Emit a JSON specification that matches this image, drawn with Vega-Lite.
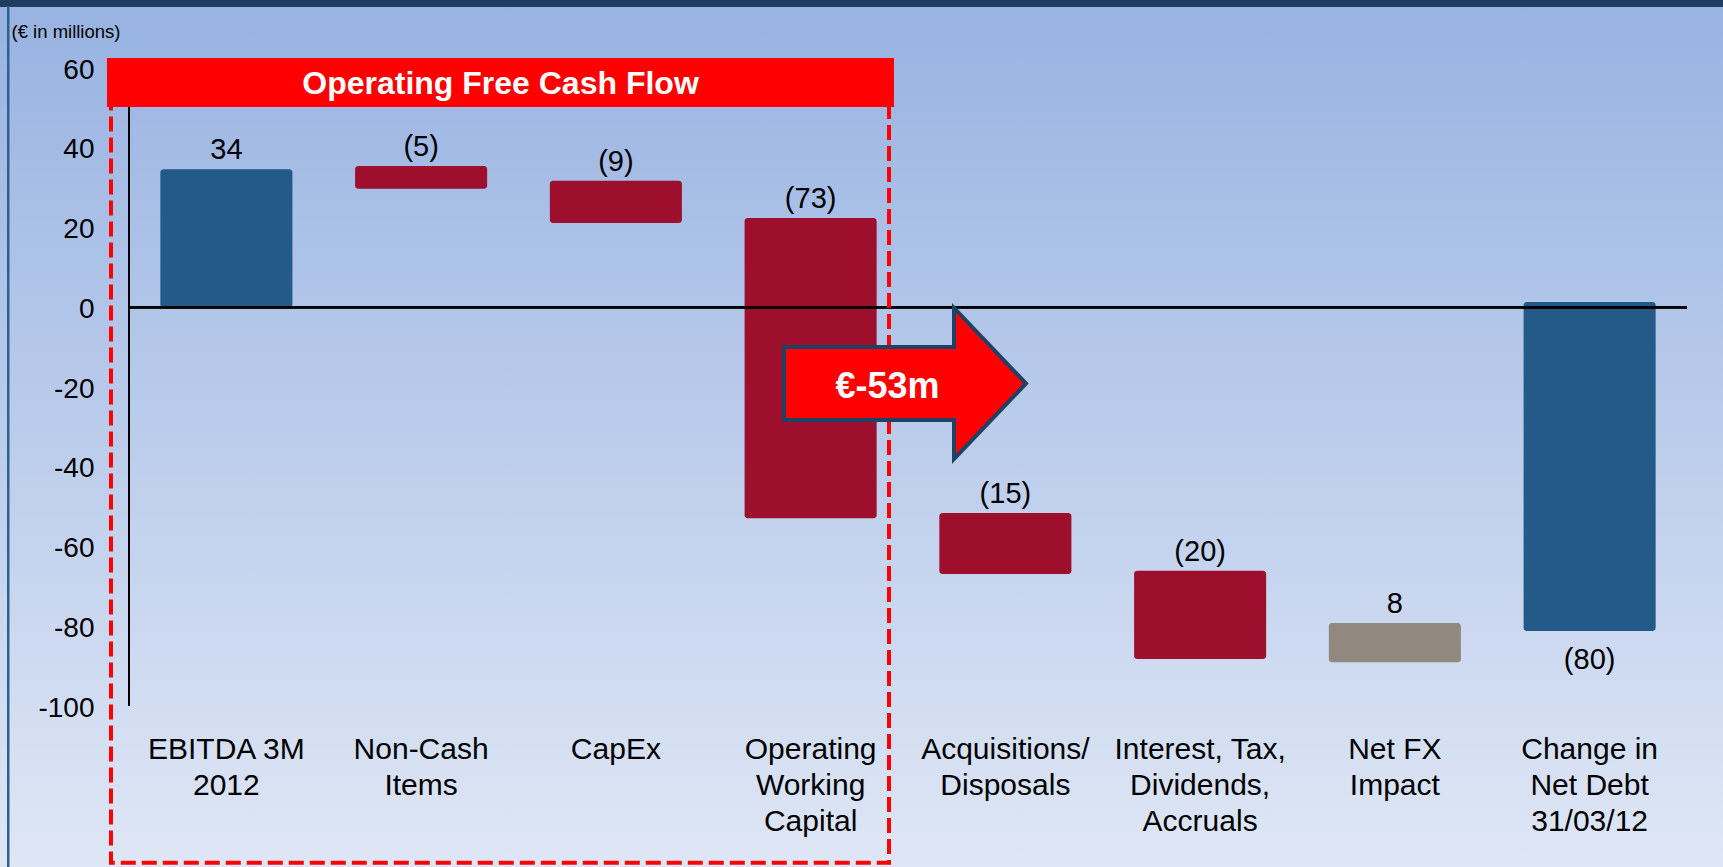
{
  "$schema": "https://vega.github.io/schema/vega-lite/v6.json",
  "width": 1558,
  "height": 638,
  "autosize": "none",
  "padding": {"left": 129, "top": 68, "right": 36, "bottom": 161},
  "background": "#BCCDEC",
  "config": {"view": {"stroke": null}, "font": "Liberation Sans"},
  "datasets": {
    "steps": [
      {"cat": "EBITDA 3M|2012", "low": 0, "high": 34.6, "kind": "total", "lab": "34", "pos": "above"},
      {"cat": "Non-Cash|Items", "low": 29.7, "high": 35.4, "kind": "neg", "lab": "(5)", "pos": "above"},
      {"cat": "CapEx", "low": 21.1, "high": 31.7, "kind": "neg", "lab": "(9)", "pos": "above"},
      {"cat": "Operating|Working|Capital", "low": -52.9, "high": 22.4, "kind": "neg", "lab": "(73)", "pos": "above"},
      {"cat": "Acquisitions/|Disposals", "low": -66.9, "high": -51.6, "kind": "neg", "lab": "(15)", "pos": "above"},
      {"cat": "Interest, Tax,|Dividends,|Accruals", "low": -88.2, "high": -66.1, "kind": "neg", "lab": "(20)", "pos": "above"},
      {"cat": "Net FX|Impact", "low": -89, "high": -79.2, "kind": "pos", "lab": "8", "pos": "above"},
      {"cat": "Change in|Net Debt|31/03/12", "low": -81.2, "high": 1.3, "kind": "total", "lab": "(80)", "pos": "below"}
    ],
    "notes": [{"banner": "Operating Free Cash Flow", "arrow": "€-53m"}]
  },
  "resolve": {"scale": {"x": "independent", "y": "independent"}, "axis": {"x": "independent", "y": "independent"}},
  "layer": [
    {
      "data": {"name": "notes"},
      "layer": [
        {
          "mark": {"type": "rect", "fill": {"gradient": "linear", "x1": 0, "y1": 0, "x2": 0, "y2": 1, "stops": [{"offset": 0, "color": "#97B2E1"}, {"offset": 1, "color": "#DFE7F5"}]}},
          "encoding": {
            "x": {"datum": -0.7, "type": "quantitative", "scale": {"domain": [0, 8], "nice": false, "zero": false}, "axis": null},
            "x2": {"datum": 8.3},
            "y": {"datum": 78, "type": "quantitative", "scale": {"domain": [-100, 60], "nice": false, "zero": false}, "axis": null},
            "y2": {"datum": -142}
          }
        },
        {
          "mark": {"type": "rect", "fill": "#1E3D60"},
          "encoding": {
            "x": {"datum": -0.7, "type": "quantitative", "scale": {"domain": [0, 8], "nice": false, "zero": false}, "axis": null},
            "x2": {"datum": 8.3},
            "y": {"datum": 78, "type": "quantitative", "scale": {"domain": [-100, 60], "nice": false, "zero": false}, "axis": null},
            "y2": {"datum": 75.3}
          }
        },
        {
          "mark": {"type": "rule", "stroke": "#2F6090", "strokeWidth": 2.5},
          "encoding": {
            "x": {"datum": -0.62, "type": "quantitative", "scale": {"domain": [0, 8], "nice": false, "zero": false}, "axis": null},
            "y": {"datum": 75.55, "type": "quantitative", "scale": {"domain": [-100, 60], "nice": false, "zero": false}, "axis": null},
            "y2": {"datum": -142}
          }
        },
        {
          "mark": {"type": "rule", "stroke": "#000000", "strokeWidth": 2},
          "encoding": {
            "x": {"datum": 0, "type": "quantitative", "scale": {"domain": [0, 8], "nice": false, "zero": false}, "axis": null},
            "y": {"datum": 60, "type": "quantitative", "scale": {"domain": [-100, 60], "nice": false, "zero": false}, "axis": null},
            "y2": {"datum": -100}
          }
        }
      ]
    },
    {
      "data": {"name": "steps"},
      "layer": [
        {
          "mark": {"type": "bar", "cornerRadius": 3},
          "encoding": {
            "x": {
              "field": "cat", "type": "nominal", "sort": null,
              "scale": {"paddingInner": 0.322, "paddingOuter": 0.161},
              "axis": {
                "title": null, "domain": false, "ticks": false, "labelAngle": 0,
                "labelFontSize": 30, "labelColor": "#000000", "labelPadding": 28,
                "labelLineHeight": 36, "labelExpr": "split(datum.label, '|')",
                "labelOverlap": false, "labelLimit": 0, "labelBaseline": "top", "zindex": 1
              }
            },
            "y": {
              "field": "low", "type": "quantitative",
              "scale": {"domain": [-100, 60], "nice": false, "zero": false},
              "axis": {
                "title": "(€ in millions)", "titleAngle": 0, "titleAlign": "left", "titleBaseline": "middle",
                "titleX": -118, "titleY": -37, "titleFontSize": 18.5, "titleFontWeight": "normal", "titleColor": "#000000",
                "titleLimit": 0,
                "domain": false, "ticks": false, "grid": false,
                "values": [-100, -80, -60, -40, -20, 0, 20, 40, 60],
                "labelExpr": "'' + datum.value",
                "labelFontSize": 28, "labelColor": "#000000", "labelPadding": 35, "labelOffset": 2, "zindex": 1
              }
            },
            "y2": {"field": "high"},
            "color": {
              "field": "kind", "type": "nominal",
              "scale": {"domain": ["total", "neg", "pos"], "range": ["#245A88", "#9D0F2D", "#918880"]},
              "legend": null
            }
          }
        },
        {
          "mark": {"type": "rule", "stroke": "#000000", "strokeWidth": 2},
          "encoding": {
            "y": {"datum": 0, "type": "quantitative", "scale": {"domain": [-100, 60], "nice": false, "zero": false}}
          }
        },
        {
          "transform": [{"filter": "datum.pos == 'above'"}],
          "mark": {"type": "text", "fontSize": 29, "color": "#000000", "baseline": "alphabetic", "align": "center", "dy": -10},
          "encoding": {
            "x": {"field": "cat", "type": "nominal", "sort": null},
            "y": {"field": "high", "type": "quantitative", "scale": {"domain": [-100, 60], "nice": false, "zero": false}},
            "text": {"field": "lab"}
          }
        },
        {
          "transform": [{"filter": "datum.pos == 'below'"}],
          "mark": {"type": "text", "fontSize": 29, "color": "#000000", "baseline": "alphabetic", "align": "center", "dy": 38},
          "encoding": {
            "x": {"field": "cat", "type": "nominal", "sort": null},
            "y": {"field": "low", "type": "quantitative", "scale": {"domain": [-100, 60], "nice": false, "zero": false}},
            "text": {"field": "lab"}
          }
        }
      ]
    },
    {
      "data": {"name": "notes"},
      "layer": [
        {
          "mark": {"type": "rect", "fill": "transparent", "stroke": "#FF0000", "strokeWidth": 4, "strokeDash": [15, 6]},
          "encoding": {
            "x": {"datum": -0.0924, "type": "quantitative", "scale": {"domain": [0, 8], "nice": false, "zero": false}, "axis": null},
            "x2": {"datum": 3.9025},
            "y": {"datum": 56, "type": "quantitative", "scale": {"domain": [-100, 60], "nice": false, "zero": false}, "axis": null},
            "y2": {"datum": -139.3}
          }
        },
        {
          "mark": {"type": "rect", "fill": "#FF0000"},
          "encoding": {
            "x": {"datum": -0.113, "type": "quantitative", "scale": {"domain": [0, 8], "nice": false, "zero": false}, "axis": null},
            "x2": {"datum": 3.928},
            "y": {"datum": 62.51, "type": "quantitative", "scale": {"domain": [-100, 60], "nice": false, "zero": false}, "axis": null},
            "y2": {"datum": 50.22}
          }
        },
        {
          "mark": {"type": "text", "fontSize": 32, "fontWeight": "bold", "color": "#FFFFFF", "align": "center", "baseline": "alphabetic"},
          "encoding": {
            "x": {"datum": 1.9076, "type": "quantitative", "scale": {"domain": [0, 8], "nice": false, "zero": false}, "axis": null},
            "y": {"datum": 53.5, "type": "quantitative", "scale": {"domain": [-100, 60], "nice": false, "zero": false}, "axis": null},
            "text": {"field": "banner"}
          }
        },
        {
          "mark": {
            "type": "point", "filled": true, "opacity": 1, "fill": "#FF0000", "stroke": "#1F4166", "strokeWidth": 4,
            "shape": "M -1 -0.302 L 0.405 -0.302 L 0.405 -0.624 L 1 0 L 0.405 0.624 L 0.405 0.302 L -1 0.302 Z",
            "size": 58564
          },
          "encoding": {
            "x": {"datum": 3.9846, "type": "quantitative", "scale": {"domain": [0, 8], "nice": false, "zero": false}, "axis": null},
            "y": {"datum": -19.12, "type": "quantitative", "scale": {"domain": [-100, 60], "nice": false, "zero": false}, "axis": null}
          }
        },
        {
          "mark": {"type": "text", "fontSize": 36, "fontWeight": "bold", "color": "#FFFFFF", "align": "center", "baseline": "alphabetic"},
          "encoding": {
            "x": {"datum": 3.895, "type": "quantitative", "scale": {"domain": [0, 8], "nice": false, "zero": false}, "axis": null},
            "y": {"datum": -22.8, "type": "quantitative", "scale": {"domain": [-100, 60], "nice": false, "zero": false}, "axis": null},
            "text": {"field": "arrow"}
          }
        }
      ]
    }
  ]
}
